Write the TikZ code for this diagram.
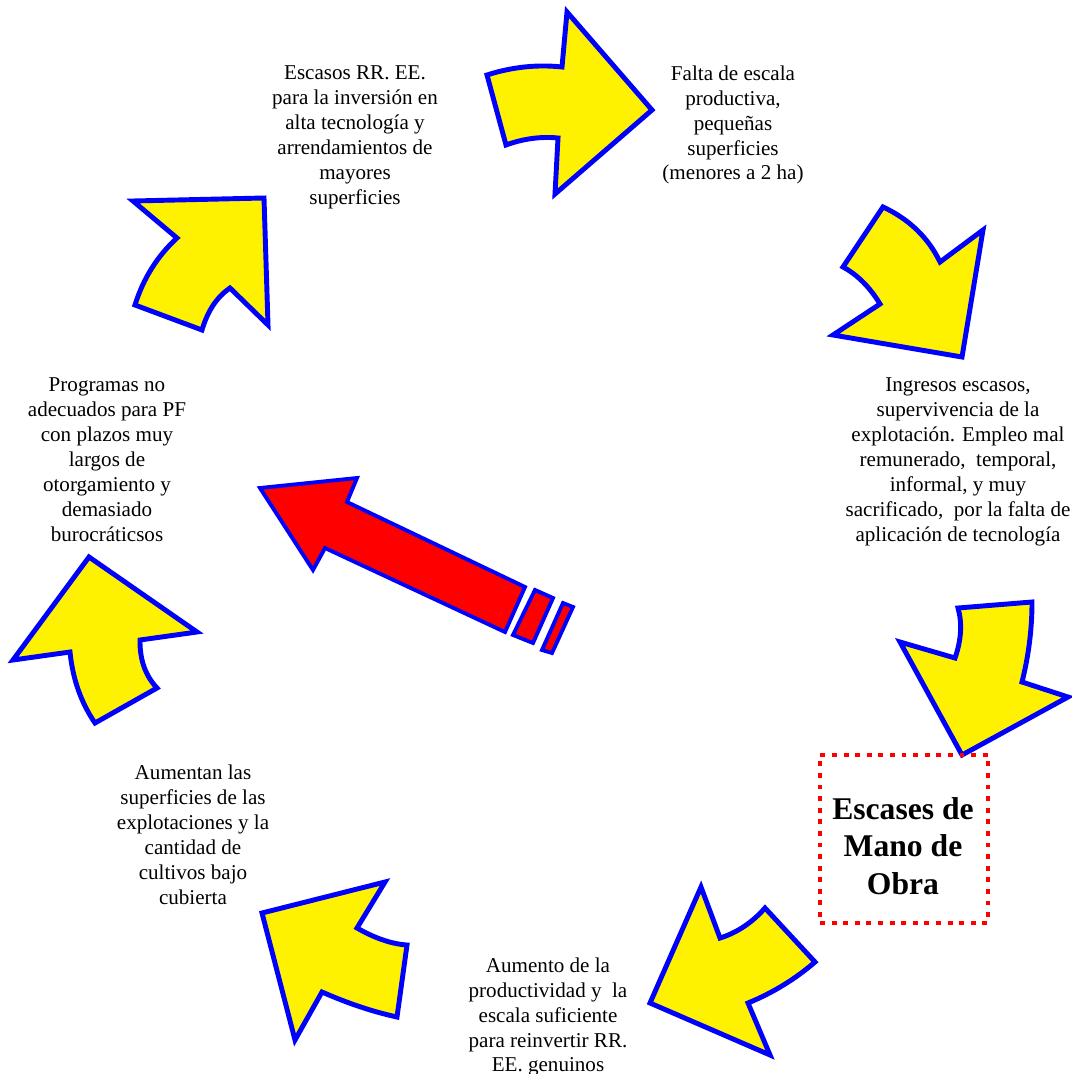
\documentclass[tikz,border=0pt]{standalone}
\usepackage{fontspec}
\setmainfont{Liberation Serif}
\begin{document}
\begin{tikzpicture}[x=0.02cm,y=-0.02cm,
  yarrow/.style={fill=yellow, draw=blue, line width=2.8pt, line join=miter, miter limit=10},
  rarrow/.style={fill=red, draw=blue, line width=2.2pt, line join=miter},
  lbl/.style={align=center, inner sep=0pt, font=\fontsize{12}{14.2}\selectfont},
  boldlbl/.style={align=center, inner sep=0pt, font=\fontsize{18}{21.5}\selectfont\bfseries},
  dotbox/.style={draw=red, line width=2.8pt, dash pattern=on 2.8pt off 3.8pt, minimum width=3.36cm, minimum height=3.36cm, inner sep=0pt}
]
\fill[white] (0,0) rectangle (1071,1074);
\useasboundingbox (0,0) rectangle (1071,1074);

% yellow curved arrows
\path[yarrow] (487,75) .. controls (512,67) and (537,64.3) .. (562,67) -- (567,12) -- (652,110) -- (555,194) -- (558,138) .. controls (540.7,136.3) and (523.3,138.7) .. (506,145) -- cycle;
\path[yarrow] (883,207) .. controls (909.3,219.3) and (928.3,237.7) .. (940,262) -- (983,230) -- (962,357) -- (833,335) -- (880,304) .. controls (869.7,287) and (857.3,274.7) .. (843,267) -- cycle;
\path[yarrow] (1032,602) .. controls (1032,628.7) and (1028.7,655.3) .. (1022,682) -- (1068,697) -- (962,755) -- (900,642) -- (955,658) .. controls (961.3,640) and (962.3,623.3) .. (958,608) -- cycle;
\path[yarrow] (650,1003) -- (701,887) -- (720,938) .. controls (737,932.7) and (752,922.7) .. (765,908) -- (815,962) .. controls (795.3,979) and (773,992.7) .. (748,1003) -- (770,1055) -- cycle;
\path[yarrow] (262,913) -- (385,882) -- (357,928) .. controls (375,938.3) and (391.7,944) .. (407,945) -- (397,1017) .. controls (372.7,1011.7) and (347.7,1003.3) .. (322,992) -- (295,1040) -- cycle;
\path[yarrow] (89,557) -- (197,632) -- (140,640) .. controls (139.7,659.6) and (145.3,675.6) .. (157,688) -- (95,723) .. controls (81.1,702.7) and (72.7,679) .. (70,652) -- (13,660) -- cycle;
\path[yarrow] (264,198) -- (268,325) -- (230,288) .. controls (217.1,296.7) and (207.7,310.7) .. (202,330) -- (135,305) .. controls (143.3,278.4) and (157.3,256.1) .. (177,238) -- (133,201) -- cycle;

% red arrow
\path[rarrow] (260,488) -- (357,478) -- (347,502) -- (525,587) -- (505,632) -- (325,548) -- (313,570) -- cycle;
\path[rarrow] (535,590) -- (553,598) -- (533,643) -- (513,635) -- cycle;
\path[rarrow] (563,603) -- (573,607) -- (552,653) -- (542,650) -- cycle;

% texts
\node[lbl] (t1) at (355,137) {Escasos RR. EE.\\para la inversión en\\alta tecnología y\\arrendamientos de\\mayores\\superficies};
\node[lbl] (t2) at (733,125) {Falta de escala\\productiva,\\pequeñas\\superficies\\(menores a 2 ha)};
\node[lbl] (t3) at (958,462) {Ingresos escasos,\\supervivencia de la\\explotación. Empleo mal\\remunerado,\ \ temporal,\\informal, y muy\\sacrificado,\ \ por la falta de\\aplicación de tecnología};
\node[lbl] (t4) at (107,460) {Programas no\\adecuados para PF\\con plazos muy\\largos de\\otorgamiento y\\demasiado\\burocráticsos};
\node[lbl] (t5) at (193,835) {Aumentan las\\superficies de las\\explotaciones y la\\cantidad de\\cultivos bajo\\cubierta};
\node[lbl] (t6) at (548,1017) {Aumento de la\\productividad y\ \ la\\escala suficiente\\para reinvertir RR.\\EE. genuinos};

% box
\node[dotbox] (box) at (904,839) {};
\node[boldlbl] (obra) at (903,846) {Escases de\\Mano de\\Obra};
\end{tikzpicture}
\end{document}
